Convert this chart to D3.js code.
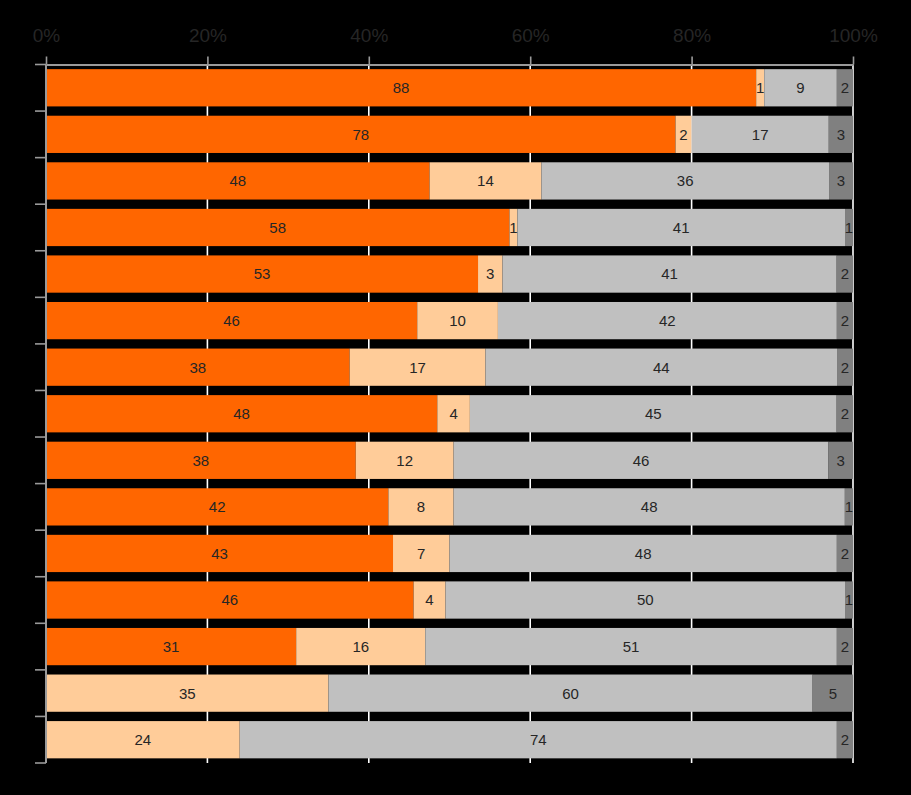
<!DOCTYPE html>
<html>
<head>
<meta charset="utf-8">
<script src="https://cdn.jsdelivr.net/npm/d3@7"></script>
<style>
  html, body { margin: 0; padding: 0; background: #000; }
  svg { display: block; }
</style>
</head>
<body>
<svg id="chart" width="911" height="795"></svg>
<script>
// ---- data ----
const categories = ["R1","R2","R3","R4","R5","R6","R7","R8","R9","R10","R11","R12","R13","R14","R15"];
const seriesNames = ["s1","s2","s3","s4"];
const s1 = [88, 78, 48, 58, 53, 46, 38, 48, 38, 42, 43, 46, 31, 0, 0];
const s2 = [1, 2, 14, 1, 3, 10, 17, 4, 12, 8, 7, 4, 16, 35, 24];
const s3 = [9, 17, 36, 41, 41, 42, 44, 45, 46, 48, 48, 50, 51, 60, 74];
const s4 = [2, 3, 3, 1, 2, 2, 2, 2, 3, 1, 2, 1, 2, 5, 2];
const tickValues = [0, 0.2, 0.4, 0.6, 0.8, 1.0];
const tickLabels = ["0%","20%","40%","60%","80%","100%"];
const colors = ["#FF6600", "#FFCC99", "#C0C0C0", "#808080"];

// ---- layout ----
const W = 911, H = 795;
const margin = {top: 64.5, right: 58, bottom: 32, left: 46};
const svg = d3.select("#chart");

const x = d3.scaleLinear().domain([0, 1]).range([margin.left, W - margin.right]);
const y = d3.scaleBand().domain(categories).range([margin.top, H - margin.bottom])
  .paddingInner(0.2).paddingOuter(0.1);

const rows = categories.map((c, i) => {
  const vals = [s1[i], s2[i], s3[i], s4[i]];
  const total = d3.sum(vals);
  let acc = 0;
  return vals.map((v, k) => {
    const seg = {cat: c, k, v, x0: acc / total, x1: (acc + v) / total};
    acc += v;
    return seg;
  });
});

// gridlines
svg.append("g").selectAll("line")
  .data(tickValues.slice(1))
  .join("line")
  .attr("x1", d => x(d)).attr("x2", d => x(d))
  .attr("y1", margin.top).attr("y2", H - margin.bottom)
  .attr("stroke", "#ffffff").attr("stroke-width", 1.6);

// bars
const segs = rows.flat();
svg.append("g").selectAll("rect")
  .data(segs.filter(d => d.v > 0))
  .join("rect")
  .attr("x", d => x(d.x0))
  .attr("width", d => x(d.x1) - x(d.x0))
  .attr("y", d => y(d.cat))
  .attr("height", y.bandwidth())
  .attr("fill", d => colors[d.k]);

// labels
svg.append("g").selectAll("text")
  .data(segs.filter(d => d.v > 0))
  .join("text")
  .attr("x", d => (x(d.x0) + x(d.x1)) / 2)
  .attr("y", d => y(d.cat) + y.bandwidth() / 2)
  .attr("dy", "0.36em")
  .attr("text-anchor", "middle")
  .attr("font-family", "'Liberation Sans', Arial, sans-serif")
  .attr("font-size", 15)
  .attr("fill", "#262626")
  .text(d => d.v);

// top axis
const xAxis = d3.axisTop(x).tickValues(tickValues)
  .tickFormat((d, i) => tickLabels[i]).tickSize(8).tickSizeOuter(0).tickPadding(15);
const gx = svg.append("g").attr("transform", `translate(0,${margin.top})`).call(xAxis);
gx.select(".domain").attr("stroke", "#9a9a9a").attr("stroke-width", 2);
gx.selectAll(".tick line").attr("stroke", "#9a9a9a").attr("stroke-width", 1.6);
gx.selectAll(".tick text")
  .attr("font-family", "'Liberation Sans', Arial, sans-serif")
  .attr("font-size", 19)
  .attr("fill", "#262626");

// left axis
const yEdges = categories.map(c => y(c) - y.step() * y.paddingInner() / 2);
yEdges[0] = margin.top;
yEdges.push(H - margin.bottom);
const gy = svg.append("g");
gy.append("line")
  .attr("x1", margin.left).attr("x2", margin.left)
  .attr("y1", margin.top).attr("y2", H - margin.bottom)
  .attr("stroke", "#9a9a9a").attr("stroke-width", 2);
gy.selectAll("line.tk")
  .data(yEdges)
  .join("line").attr("class", "tk")
  .attr("x1", margin.left - 11).attr("x2", margin.left)
  .attr("y1", d => d).attr("y2", d => d)
  .attr("stroke", "#9a9a9a").attr("stroke-width", 1.6);
</script>
</body>
</html>
